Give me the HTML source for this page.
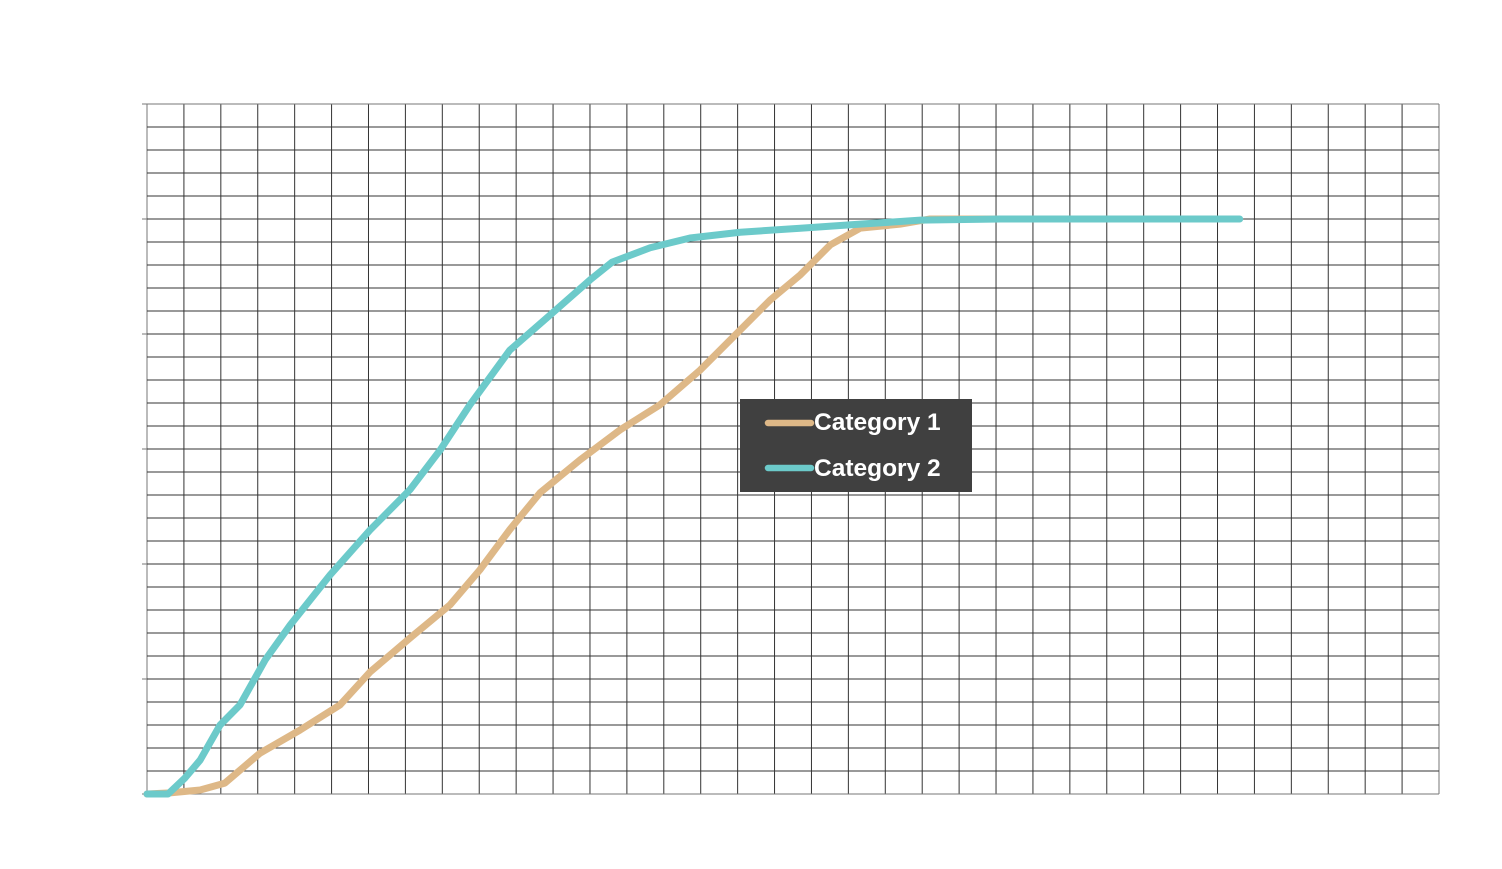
<!DOCTYPE html>
<html><head><meta charset="utf-8"><style>
body{margin:0;background:#fff;width:1502px;height:864px;overflow:hidden;font-family:"Liberation Sans",sans-serif}
</style></head><body>
<svg id="chart" width="1502" height="864" xmlns="http://www.w3.org/2000/svg">
<g id="grid"></g>
<g id="series"></g>
<g>
<rect x="740" y="399" width="232" height="93" fill="#404040"/>
<line x1="768" y1="423" x2="811" y2="423" stroke="#deb887" stroke-width="6.5" stroke-linecap="round"/>
<text x="814" y="430" fill="#fff" font-size="24.5" font-weight="bold">Category 1</text>
<line x1="768" y1="468" x2="811" y2="468" stroke="#6ccaca" stroke-width="6.5" stroke-linecap="round"/>
<text x="814" y="476" fill="#fff" font-size="24.5" font-weight="bold">Category 2</text>
</g>
</svg>
<script>
const cat1X=[0,0.62,1.44,2.11,3.06,4.14,5.23,6.04,7.12,8.21,9.02,9.83,10.65,11.73,12.81,13.9,14.98,16.07,16.88,17.7,18.51,19.32,20.4,21.21,26.23];
const cat1Y=[0,0.2,0.7,1.9,7.1,11.1,15.5,21.2,27.1,32.9,39.0,46.0,52.4,58.1,63.3,67.7,73.7,80.7,85.9,90.3,95.5,98.4,99.1,100,100];
const cat2X=[0,0.57,1.03,1.44,1.98,2.52,3.2,3.88,4.96,6.04,7.12,7.94,8.75,9.83,10.92,12.0,12.6,13.63,14.71,16.07,17.7,19.32,20.95,23.11,29.6];
const cat2Y=[0,0,2.8,5.9,12.0,15.5,23.3,29.4,38.1,45.9,52.9,59.8,67.7,77.2,83.3,89.4,92.5,95.0,96.7,97.7,98.4,99.1,99.8,100,100];
const yTicks=[0,20,40,60,80,100,120];
const X0=147,X1=1439,Y0=794,Y1=104,XMAX=35,YMAX=120;
const sx=v=>X0+(X1-X0)*v/XMAX, sy=v=>Y0-(Y0-Y1)*v/YMAX;
const NS="http://www.w3.org/2000/svg";
const grid=document.getElementById('grid');
function ln(x1,y1,x2,y2,c,w){const l=document.createElementNS(NS,'line');l.setAttribute('x1',x1);l.setAttribute('y1',y1);l.setAttribute('x2',x2);l.setAttribute('y2',y2);l.setAttribute('stroke',c);l.setAttribute('stroke-width',w);grid.appendChild(l);return l;}
for(let i=0;i<=35;i++){const l=ln(sx(i),Y1,sx(i),Y0,i==0||i==35?'#777':'#333',1);

}
for(let j=0;j<=30;j++){const v=j*4;const l=ln(X0,sy(v),X1,sy(v),j==0||j==30?'#777':'#333',1);

}
yTicks.forEach(t=>{const l=ln(142,sy(t),X0,sy(t),'#777',1);

});
const ser=document.getElementById('series');
function path(xs,ys,c,name){const p=document.createElementNS(NS,'polyline');
p.setAttribute('points',xs.map((x,i)=>sx(x)+','+sy(ys[i])).join(' '));
p.setAttribute('fill','none');p.setAttribute('stroke',c);p.setAttribute('stroke-width','7');p.setAttribute('stroke-linejoin','round');p.setAttribute('stroke-linecap','round');


ser.appendChild(p);}
path(cat1X,cat1Y,'#deb887','series-category-1');
path(cat2X,cat2Y,'#6ccaca','series-category-2');
</script>
</body></html>
